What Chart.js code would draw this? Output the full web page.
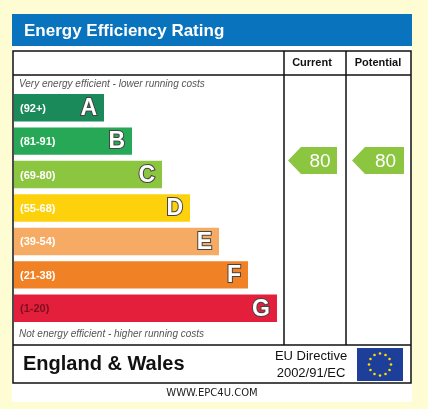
<!DOCTYPE html>
<html>
<head>
<meta charset="utf-8">
<script src="https://cdn.jsdelivr.net/npm/chart.js@4/dist/chart.umd.min.js"></script>
<style>
  html, body { margin: 0; padding: 0; background: #fdfcd2; }
  #wrap { width: 428px; height: 409px; }
</style>
</head>
<body>
<div id="wrap"><canvas id="epc" width="428" height="409"></canvas></div>
<script>
const BANDS = ['A', 'B', 'C', 'D', 'E', 'F', 'G'];
const RANGES = ['(92+)', '(81-91)', '(69-80)', '(55-68)', '(39-54)', '(21-38)', '(1-20)'];
const LENGTHS = [90, 118, 148, 176, 205, 234, 263];
const COLORS = ['#1b8a5a', '#27a857', '#8cc540', '#fdd20d', '#f5ab63', '#f08124', '#e41f3c'];
const CURRENT = 80;
const POTENTIAL = 80;

function bandOf(score) {
  if (score >= 92) return 0;
  if (score >= 81) return 1;
  if (score >= 69) return 2;
  if (score >= 55) return 3;
  if (score >= 39) return 4;
  if (score >= 21) return 5;
  return 6;
}

const framePlugin = {
  id: 'frame',
  beforeDraw(chart) {
    const c = chart.ctx;
    c.save();
    c.fillStyle = '#fdfcd2';
    c.fillRect(0, 0, 428, 409);
    c.fillStyle = '#ffffff';
    c.fillRect(12, 14, 400, 388);
    c.fillStyle = '#0a73bd';
    c.fillRect(12, 14, 400, 32);
    c.fillStyle = '#ffffff';
    c.font = 'bold 17px "Liberation Sans", Arial, sans-serif';
    c.textBaseline = 'middle';
    c.fillText('Energy Efficiency Rating', 24, 31);

    c.strokeStyle = '#111';
    c.lineWidth = 1.5;
    c.strokeRect(13, 51, 398, 332);
    c.beginPath();
    c.moveTo(13, 75); c.lineTo(411, 75);
    c.moveTo(284, 51); c.lineTo(284, 345);
    c.moveTo(346, 51); c.lineTo(346, 345);
    c.moveTo(13, 345); c.lineTo(411, 345);
    c.stroke();

    c.fillStyle = '#111';
    c.font = 'bold 11px "Liberation Sans", Arial, sans-serif';
    c.textAlign = 'center';
    c.fillText('Current', 312, 63);
    c.fillText('Potential', 378, 63);

    c.textAlign = 'left';
    c.fillStyle = '#555';
    c.font = 'italic 10px "Liberation Sans", Arial, sans-serif';
    c.fillText('Very energy efficient - lower running costs', 19, 84);
    c.fillText('Not energy efficient - higher running costs', 19, 334);

    c.fillStyle = '#111';
    c.font = 'bold 20px "Liberation Sans", Arial, sans-serif';
    c.fillText('England & Wales', 23, 364);
    c.font = '13px "Liberation Sans", Arial, sans-serif';
    c.textAlign = 'center';
    c.fillText('EU Directive', 311, 356);
    c.fillText('2002/91/EC', 311, 373);

    // EU flag
    c.fillStyle = '#1d3f9a';
    c.fillRect(357, 348, 46, 33);
    c.fillStyle = '#ffdd00';
    for (let i = 0; i < 12; i++) {
      const a = i * Math.PI / 6;
      c.beginPath();
      c.arc(380 + 11 * Math.cos(a), 364.5 + 11 * Math.sin(a), 1.3, 0, Math.PI * 2);
      c.fill();
    }

    c.fillStyle = '#222';
    c.font = '10px "DejaVu Sans", sans-serif';
    c.fillText('WWW.EPC4U.COM', 212, 393);
    c.restore();
  },
  afterDatasetsDraw(chart) {
    const c = chart.ctx;
    const meta = chart.getDatasetMeta(0);
    c.save();
    c.textBaseline = 'middle';
    meta.data.forEach((bar, i) => {
      const y = bar.y;
      c.fillStyle = i === 6 ? '#7a1020' : '#ffffff';
      c.textAlign = 'left';
      c.font = 'bold 11px "Liberation Sans", Arial, sans-serif';
      c.fillText(RANGES[i], 20, y + 1);
      c.font = 'bold 23px "Liberation Sans", Arial, sans-serif';
      c.textAlign = 'right';
      c.lineWidth = 2;
      c.strokeStyle = '#444';
      c.strokeText(BANDS[i], bar.x - 7, y + 1);
      c.fillStyle = '#ffffff';
      c.fillText(BANDS[i], bar.x - 7, y + 1);
    });
    const y = chart.scales.y;
    [[CURRENT, 288, 337], [POTENTIAL, 352, 404]].forEach(([score, x0, x1]) => {
      const b = bandOf(score);
      // the arrow sits a little above the band's centre in the reference
      const cy = y.getPixelForValue(b) - 14;
      const h = 27;
      c.fillStyle = COLORS[b];
      c.beginPath();
      c.moveTo(x0, cy);
      c.lineTo(x0 + 13, cy - h / 2);
      c.lineTo(x1, cy - h / 2);
      c.lineTo(x1, cy + h / 2);
      c.lineTo(x0 + 13, cy + h / 2);
      c.closePath();
      c.fill();
      c.fillStyle = '#ffffff';
      c.font = '19px "Liberation Sans", Arial, sans-serif';
      c.textAlign = 'center';
      c.fillText(String(score), (x0 + 13 + x1) / 2 + 1, cy + 1);
    });
    c.restore();
  }
};

new Chart(document.getElementById('epc'), {
  type: 'bar',
  data: {
    labels: BANDS,
    datasets: [{
      data: LENGTHS,
      backgroundColor: COLORS,
      borderWidth: 0,
      categoryPercentage: 1,
      barPercentage: 0.82
    }]
  },
  options: {
    indexAxis: 'y',
    responsive: false,
    animation: false,
    devicePixelRatio: 1,
    layout: { padding: { left: 14, right: 144, top: 91, bottom: 84 } },
    plugins: { legend: { display: false }, tooltip: { enabled: false } },
    scales: {
      x: { display: false, min: 0, max: 270 },
      y: { display: false }
    }
  },
  plugins: [framePlugin]
});
</script>
</body>
</html>
